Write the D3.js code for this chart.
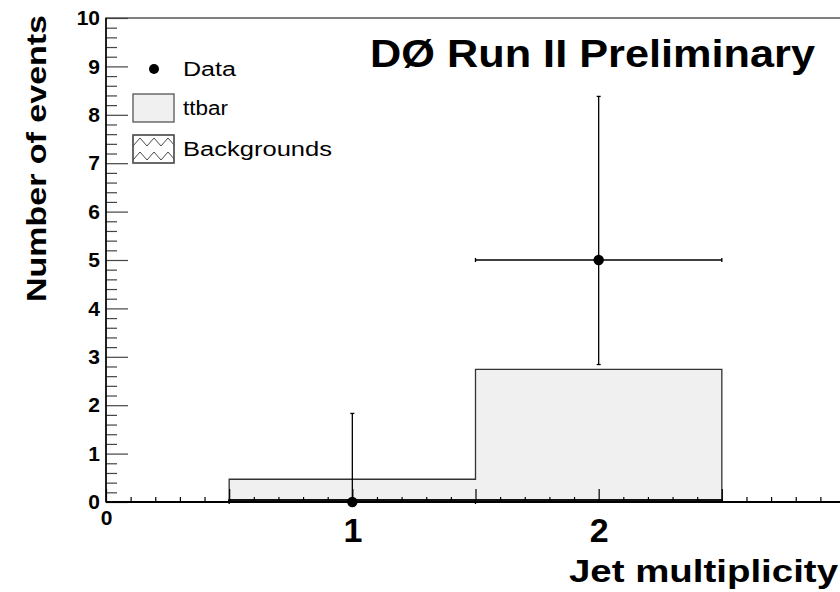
<!DOCTYPE html>
<html>
<head>
<meta charset="utf-8">
<script src="https://cdn.jsdelivr.net/npm/d3@7"></script>
<style>
  body { margin: 0; background: #fff; }
  svg { display: block; }
  text { font-family: "Liberation Sans", Arial, Helvetica, sans-serif; }
</style>
</head>
<body>
<svg id="chart" width="840" height="592"></svg>
<script>
// Jet multiplicity histogram: stacked MC (backgrounds + ttbar) with data points
const binLow = [0.5, 1.5];
const binHigh = [1.5, 2.5];
const binCenters = [1, 2];
const backgrounds = [0.04, 0.04];
const ttbar = [0.43, 2.70];
const dataCounts = [0, 5];
const dataErrLow = [0, 2.16];
const dataErrHigh = [1.83, 3.38];
const xTickLabels = [0, 1, 2];
const yTickLabels = [0, 1, 2, 3, 4, 5, 6, 7, 8, 9, 10];
const legendEntries = ["Data", "ttbar", "Backgrounds"];

const svg = d3.select("#chart");

const x = d3.scaleLinear().domain([0, 3]).range([106, 845]);
const y = d3.scaleLinear().domain([0, 10]).range([502, 18]);

// zigzag hatch for the background component
const defs = svg.append("defs");
const pat = defs.append("pattern")
  .attr("id", "zigzag")
  .attr("patternUnits", "userSpaceOnUse")
  .attr("x", 133).attr("y", 135)
  .attr("width", 14).attr("height", 14);
pat.append("path")
  .attr("d", "M0,11 L7,3 L14,11")
  .attr("fill", "none").attr("stroke", "#333").attr("stroke-width", 0.9);

// frame
svg.append("rect")
  .attr("x", x(0)).attr("y", y(10))
  .attr("width", x(3) - x(0)).attr("height", y(0) - y(10))
  .attr("fill", "none").attr("stroke", "#555").attr("stroke-width", 1.5);

// step outline helper for stacked histogram tops
function stepPoints(tops) {
  const pts = [[binLow[0], 0]];
  tops.forEach((t, i) => {
    pts.push([binLow[i], t]);
    pts.push([binHigh[i], t]);
  });
  pts.push([binHigh[binHigh.length - 1], 0]);
  return pts;
}
const line = d3.line().x(d => x(d[0])).y(d => y(d[1]));

const stackTop = ttbar.map((v, i) => v + backgrounds[i]);

// ttbar (stacked on backgrounds)
svg.append("path")
  .attr("d", line(stepPoints(stackTop)) + "Z")
  .attr("fill", "#f0f0f0")
  .attr("stroke", "#333").attr("stroke-width", 1.3);

// backgrounds
svg.append("path")
  .attr("d", line(stepPoints(backgrounds)) + "Z")
  .attr("fill", "url(#zigzag)")
  .attr("stroke", "#111").attr("stroke-width", 2);

// y axis: major and minor ticks pointing into the plot
const yMinor = d3.range(0, 10.001, 0.2).map(v => +v.toFixed(1)).filter(v => !yTickLabels.includes(v));
svg.append("g")
  .attr("transform", `translate(${x(0)},0)`)
  .call(d3.axisLeft(y).tickValues(yMinor).tickSize(-11).tickFormat(""))
  .call(g => g.select(".domain").remove())
  .call(g => g.selectAll(".tick line").attr("stroke", "#444").attr("stroke-width", 1.2));

svg.append("g")
  .attr("transform", `translate(${x(0)},0)`)
  .call(d3.axisLeft(y).tickValues(yTickLabels).tickSize(-22).tickPadding(6).tickFormat(d3.format("d")))
  .call(g => g.select(".domain").remove())
  .call(g => g.selectAll(".tick line").attr("stroke", "#444").attr("stroke-width", 1.2))
  .call(g => g.selectAll(".tick text")
    .attr("font-size", 21).attr("font-weight", "bold").attr("fill", "#000")
    .attr("font-family", "'Liberation Sans', Arial, sans-serif"));

// x axis: minor ticks every 0.1, longer ticks every 0.5
const xMinor = d3.range(0, 3.001, 0.1).map(v => +v.toFixed(1)).filter(v => Math.abs(v * 2 - Math.round(v * 2)) > 1e-6);
const xMajor = d3.range(0, 3.001, 0.5);
svg.append("g")
  .attr("transform", `translate(0,${y(0)})`)
  .call(d3.axisBottom(x).tickValues(xMinor).tickSize(-5).tickFormat(""))
  .call(g => g.select(".domain").remove())
  .call(g => g.selectAll(".tick line").attr("stroke", "#000").attr("stroke-width", 1.2));

svg.append("g")
  .attr("transform", `translate(0,${y(0)})`)
  .call(d3.axisBottom(x).tickValues(xMajor).tickSize(-13).tickPadding(8)
    .tickFormat(d => xTickLabels.includes(d) ? d3.format("d")(d) : ""))
  .call(g => g.select(".domain").remove())
  .call(g => g.selectAll(".tick line").attr("stroke", "#000").attr("stroke-width", 1.2))
  .call(g => g.selectAll(".tick text")
    .attr("font-weight", "bold").attr("fill", "#000")
    .attr("font-family", "'Liberation Sans', Arial, sans-serif")
    .attr("font-size", d => d === 0 ? 21 : 34)
    .attr("y", d => d === 0 ? 8 : 16));

// axis lines
svg.append("line")
  .attr("x1", x(0)).attr("x2", x(3)).attr("y1", y(0)).attr("y2", y(0))
  .attr("stroke", "#000").attr("stroke-width", 2);
svg.append("line")
  .attr("x1", x(0)).attr("x2", x(0)).attr("y1", y(0)).attr("y2", y(10))
  .attr("stroke", "#000").attr("stroke-width", 1.5);

// data points with asymmetric Poisson errors
const dataG = svg.append("g").attr("stroke", "#000").attr("stroke-width", 1.3);
binCenters.forEach((c, i) => {
  const v = dataCounts[i];
  const lo = v - dataErrLow[i], hi = v + dataErrHigh[i];
  dataG.append("line").attr("x1", x(binLow[i])).attr("x2", x(binHigh[i]))
    .attr("y1", y(v)).attr("y2", y(v));
  dataG.append("line").attr("x1", x(c)).attr("x2", x(c))
    .attr("y1", y(lo)).attr("y2", y(hi));
  // end caps
  dataG.append("line").attr("x1", x(c) - 2).attr("x2", x(c) + 2).attr("y1", y(hi)).attr("y2", y(hi));
  if (dataErrLow[i] > 0)
    dataG.append("line").attr("x1", x(c) - 2).attr("x2", x(c) + 2).attr("y1", y(lo)).attr("y2", y(lo));
  dataG.append("line").attr("x1", x(binLow[i])).attr("x2", x(binLow[i])).attr("y1", y(v) - 2).attr("y2", y(v) + 2);
  dataG.append("line").attr("x1", x(binHigh[i])).attr("x2", x(binHigh[i])).attr("y1", y(v) - 2).attr("y2", y(v) + 2);
  svg.append("circle").attr("cx", x(c)).attr("cy", y(v)).attr("r", 5.2).attr("fill", "#000");
});

// legend
const leg = svg.append("g");
leg.append("circle").attr("cx", 154).attr("cy", 69).attr("r", 5).attr("fill", "#000");
leg.append("rect").attr("x", 133).attr("y", 94).attr("width", 41).attr("height", 28)
  .attr("fill", "#f0f0f0").attr("stroke", "#555").attr("stroke-width", 1.3);
leg.append("rect").attr("x", 133).attr("y", 135).attr("width", 41).attr("height", 28)
  .attr("fill", "#fff").attr("stroke", "#555").attr("stroke-width", 1.3);
leg.append("rect").attr("x", 133).attr("y", 135).attr("width", 41).attr("height", 28)
  .attr("fill", "url(#zigzag)").attr("stroke", "#555").attr("stroke-width", 1.3);
const legY = [76, 115, 156];
const legW = [53, 45, 149];
legendEntries.forEach((t, i) => {
  leg.append("text").attr("x", 183).attr("y", legY[i])
    .attr("font-size", 20).attr("fill", "#000")
    .attr("textLength", legW[i]).attr("lengthAdjust", "spacingAndGlyphs")
    .text(t);
});

// titles
svg.append("text").attr("x", 370).attr("y", 67)
  .attr("font-size", 38).attr("font-weight", "bold")
  .attr("textLength", 445).attr("lengthAdjust", "spacingAndGlyphs")
  .text("DØ Run II Preliminary");

svg.append("text").attr("x", 569).attr("y", 582)
  .attr("font-size", 31).attr("font-weight", "bold")
  .attr("textLength", 269).attr("lengthAdjust", "spacingAndGlyphs")
  .text("Jet multiplicity");

svg.append("text")
  .attr("transform", "translate(46,302) rotate(-90)")
  .attr("font-size", 28).attr("font-weight", "bold")
  .attr("textLength", 287).attr("lengthAdjust", "spacingAndGlyphs")
  .text("Number of events");
</script>
</body>
</html>
